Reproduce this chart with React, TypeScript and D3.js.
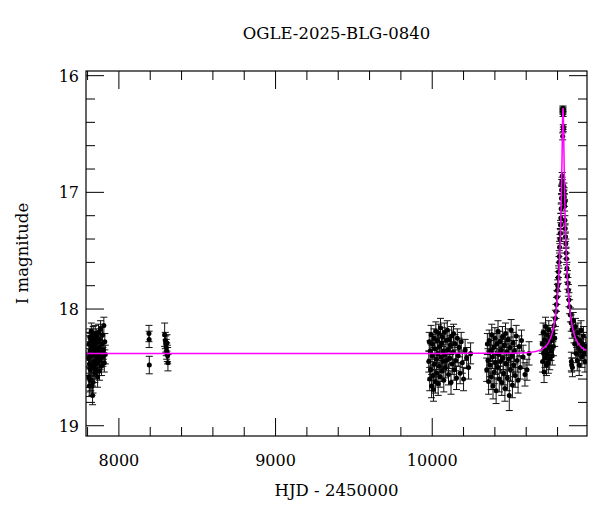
import React from "react";
import * as d3 from "d3";

const TITLE = "OGLE-2025-BLG-0840";
const X_LABEL = "HJD - 2450000";
const Y_LABEL = "I magnitude";
const X_MAJOR = [8000, 9000, 10000];
const Y_MAJOR = [16, 17, 18, 19];

// [HJD-2450000, I mag, error]
const season2017: number[][] = [
  [7806, 18.42, 0.08], [7808, 18.58, 0.09], [7809, 18.3, 0.07], [7811, 18.66, 0.09], [7812, 18.47, 0.08],
  [7814, 18.24, 0.07], [7815, 18.61, 0.1], [7817, 18.36, 0.08], [7818, 18.52, 0.08], [7820, 18.28, 0.07],
  [7821, 18.61, 0.09], [7823, 18.4, 0.08], [7824, 18.19, 0.07], [7826, 18.49, 0.08], [7827, 18.33, 0.07],
  [7828, 18.66, 0.08], [7830, 18.26, 0.07], [7832, 18.74, 0.08], [7833, 18.37, 0.08], [7835, 18.63, 0.09],
  [7836, 18.22, 0.07], [7838, 18.5, 0.08], [7840, 18.31, 0.07], [7841, 18.45, 0.08], [7843, 18.39, 0.08],
  [7844, 18.27, 0.07], [7846, 18.55, 0.08], [7848, 18.34, 0.07], [7849, 18.21, 0.07], [7851, 18.47, 0.08],
  [7853, 18.38, 0.08], [7855, 18.29, 0.07], [7856, 18.52, 0.08], [7858, 18.24, 0.07], [7860, 18.42, 0.08],
  [7862, 18.35, 0.07], [7864, 18.58, 0.09], [7866, 18.28, 0.07], [7868, 18.46, 0.08], [7870, 18.2, 0.07],
  [7872, 18.4, 0.08], [7874, 18.33, 0.07], [7876, 18.53, 0.08], [7878, 18.26, 0.07], [7880, 18.44, 0.08],
  [7883, 18.17, 0.07], [7886, 18.37, 0.08], [7889, 18.49, 0.08], [7892, 18.3, 0.07], [7895, 18.22, 0.07],
  [7898, 18.41, 0.08], [7901, 18.35, 0.08], [7904, 18.14, 0.07], [7907, 18.46, 0.08], [7910, 18.28, 0.07],
  [7913, 18.39, 0.08],
];

const season2018: number[][] = [
  [8192, 18.21, 0.07], [8193, 18.26, 0.07], [8194, 18.48, 0.075],
  [8292, 18.22, 0.1], [8296, 18.27, 0.07], [8299, 18.3, 0.07], [8302, 18.33, 0.07], [8305, 18.36, 0.07],
  [8307, 18.29, 0.07], [8309, 18.38, 0.07], [8311, 18.4, 0.07], [8313, 18.46, 0.07],
];

const season2023: number[][] = [
  [9978, 18.45, 0.09], [9981, 18.28, 0.08], [9984, 18.6, 0.1], [9987, 18.36, 0.09], [9990, 18.52, 0.09],
  [9993, 18.22, 0.08], [9996, 18.66, 0.1], [9999, 18.4, 0.09], [10002, 18.3, 0.08], [10005, 18.57, 0.09],
  [10008, 18.69, 0.1], [10011, 18.25, 0.08], [10014, 18.47, 0.09], [10017, 18.34, 0.08], [10020, 18.62, 0.1],
  [10023, 18.19, 0.08], [10026, 18.43, 0.09], [10029, 18.55, 0.09], [10032, 18.27, 0.08], [10035, 18.38, 0.09],
  [10038, 18.64, 0.1], [10041, 18.21, 0.08], [10044, 18.49, 0.09], [10047, 18.32, 0.08], [10050, 18.58, 0.09],
  [10053, 18.16, 0.08], [10056, 18.41, 0.09], [10059, 18.29, 0.08], [10062, 18.53, 0.09], [10065, 18.24, 0.08],
  [10068, 18.45, 0.09], [10071, 18.36, 0.08], [10074, 18.61, 0.1], [10077, 18.2, 0.08], [10080, 18.39, 0.09],
  [10084, 18.5, 0.09], [10088, 18.27, 0.08], [10092, 18.44, 0.09], [10096, 18.18, 0.08], [10100, 18.35, 0.09],
  [10104, 18.56, 0.09], [10108, 18.26, 0.08], [10112, 18.42, 0.09], [10116, 18.31, 0.08], [10120, 18.63, 0.1],
  [10124, 18.23, 0.08], [10128, 18.47, 0.09], [10132, 18.37, 0.09], [10136, 18.21, 0.08], [10140, 18.52, 0.09],
  [10145, 18.3, 0.08], [10150, 18.44, 0.09], [10155, 18.59, 0.1], [10160, 18.25, 0.08], [10166, 18.4, 0.09],
  [10172, 18.33, 0.08], [10178, 18.55, 0.09], [10185, 18.28, 0.08], [10192, 18.46, 0.09], [10200, 18.6, 0.1],
  [10210, 18.35, 0.09], [10220, 18.42, 0.09], [10232, 18.5, 0.1], [10245, 18.38, 0.09],
];

const season2024: number[][] = [
  [10348, 18.52, 0.1], [10352, 18.3, 0.09], [10356, 18.44, 0.1], [10360, 18.62, 0.11], [10364, 18.27, 0.09],
  [10368, 18.48, 0.1], [10372, 18.36, 0.09], [10376, 18.58, 0.11], [10380, 18.22, 0.09], [10384, 18.41, 0.1],
  [10388, 18.66, 0.11], [10392, 18.33, 0.09], [10396, 18.54, 0.1], [10400, 18.25, 0.09], [10404, 18.46, 0.1],
  [10408, 18.7, 0.11], [10412, 18.3, 0.09], [10416, 18.5, 0.1], [10420, 18.19, 0.09], [10424, 18.39, 0.1],
  [10428, 18.6, 0.11], [10432, 18.28, 0.09], [10436, 18.45, 0.1], [10440, 18.35, 0.09], [10444, 18.63, 0.11],
  [10448, 18.24, 0.09], [10452, 18.42, 0.1], [10456, 18.55, 0.1], [10460, 18.31, 0.09], [10464, 18.68, 0.11],
  [10468, 18.21, 0.09], [10472, 18.47, 0.1], [10476, 18.37, 0.09], [10480, 18.59, 0.11], [10484, 18.26, 0.09],
  [10488, 18.43, 0.1], [10492, 18.74, 0.13], [10496, 18.33, 0.09], [10500, 18.52, 0.1], [10504, 18.18, 0.09],
  [10508, 18.4, 0.1], [10512, 18.65, 0.11], [10516, 18.29, 0.09], [10520, 18.48, 0.1], [10525, 18.36, 0.09],
  [10530, 18.57, 0.1], [10536, 18.23, 0.09], [10542, 18.44, 0.1], [10548, 18.61, 0.11], [10555, 18.32, 0.09],
  [10562, 18.5, 0.1], [10570, 18.27, 0.09], [10580, 18.41, 0.1], [10592, 18.56, 0.1], [10605, 18.52, 0.09],
  [10618, 18.38, 0.1],
];

const season2025: number[][] = [
  [10702, 18.3, 0.08], [10705, 18.45, 0.09], [10708, 18.2, 0.08], [10711, 18.38, 0.08], [10714, 18.54, 0.09],
  [10717, 18.26, 0.08], [10720, 18.42, 0.08], [10723, 18.15, 0.08], [10726, 18.35, 0.08], [10729, 18.48, 0.09],
  [10732, 18.22, 0.08], [10735, 18.39, 0.08], [10738, 18.29, 0.08], [10741, 18.46, 0.09], [10744, 18.18, 0.08],
  [10747, 18.33, 0.08], [10750, 18.43, 0.09], [10754, 18.24, 0.08], [10758, 18.36, 0.08], [10762, 18.27, 0.08],
  [10766, 18.4, 0.08], [10770, 18.21, 0.07], [10774, 18.32, 0.08], [10778, 18.14, 0.07], [10782, 18.25, 0.07],
  [10786, 18.08, 0.07],
  [10790, 18.02, 0.06], [10793, 17.96, 0.06], [10796, 17.9, 0.06], [10799, 17.84, 0.05], [10801, 17.8, 0.05],
  [10804, 17.73, 0.05], [10806, 17.68, 0.05], [10809, 17.6, 0.05], [10811, 17.55, 0.05], [10813, 17.47, 0.05],
  [10815, 17.4, 0.04], [10817, 17.35, 0.04], [10819, 17.28, 0.04], [10821, 17.22, 0.04], [10823, 17.14, 0.04],
  [10825, 17.05, 0.04], [10826, 16.98, 0.04], [10827, 16.92, 0.03], [10829, 16.9, 0.03], [10830, 16.86, 0.03],
  [10833, 16.52, 0.03], [10834, 16.3, 0.02], [10834.3, 16.28, 0.02], [10834.6, 16.31, 0.02], [10835, 16.29, 0.02],
  [10835.3, 16.33, 0.02], [10836.5, 16.44, 0.02], [10836.8, 16.46, 0.02],
  [10841, 16.95, 0.03], [10842, 16.99, 0.03], [10843, 17.04, 0.03], [10844, 17.09, 0.03], [10845, 17.12, 0.04],
  [10847, 17.24, 0.04], [10849, 17.31, 0.04], [10851, 17.38, 0.04], [10853, 17.44, 0.04], [10855, 17.52, 0.05],
  [10857, 17.57, 0.05], [10860, 17.65, 0.05], [10863, 17.72, 0.05], [10866, 17.78, 0.05], [10869, 17.84, 0.05],
  [10873, 17.92, 0.06], [10877, 17.98, 0.06], [10882, 18.05, 0.06], [10887, 18.12, 0.07], [10888, 18.45, 0.08],
  [10890, 18.48, 0.06], [10893, 18.18, 0.07], [10895, 18.5, 0.08], [10900, 18.1, 0.07],
  [10905, 18.22, 0.07], [10910, 18.3, 0.08], [10914, 18.15, 0.07], [10918, 18.38, 0.08], [10922, 18.25, 0.08],
  [10926, 18.44, 0.09], [10930, 18.2, 0.08], [10934, 18.33, 0.08], [10938, 18.48, 0.09], [10942, 18.27, 0.08],
  [10946, 18.36, 0.08], [10950, 18.18, 0.08], [10955, 18.41, 0.09], [10960, 18.3, 0.08], [10965, 18.23, 0.08],
  [10970, 18.38, 0.09], [10975, 18.45, 0.09], [10980, 18.32, 0.08],
];

// Point-source point-lens model parameters (blended)
const MODEL_T0 = 10835;
const MODEL_TE = 70;
const MODEL_U0 = 0.078;
const MODEL_FS = 0.5;
const MODEL_BASE = 18.38;

const X_DOMAIN = [7790, 10988];
const Y_DOMAIN = [15.96, 19.088];

const FONT = "DejaVu Serif";

export default function App() {
  const left = 86, right = 587, top = 71, bottom = 436;
  const x = d3.scaleLinear().domain(X_DOMAIN).range([left, right]);
  const y = d3.scaleLinear().domain(Y_DOMAIN).range([top, bottom]);

  const data = [...season2017, ...season2018, ...season2023, ...season2024, ...season2025];

  const modelMag = (t: number) => {
    const tau = (t - MODEL_T0) / MODEL_TE;
    const u = Math.sqrt(tau * tau + MODEL_U0 * MODEL_U0);
    const A = (u * u + 2) / (u * Math.sqrt(u * u + 4));
    return MODEL_BASE - 2.5 * Math.log10(MODEL_FS * (A - 1) + 1);
  };
  const ts = d3.range(X_DOMAIN[0], X_DOMAIN[1], 0.5);
  const line = d3
    .line<number>()
    .x((t) => x(t))
    .y((t) => y(modelMag(t)));

  const xMinor = d3.range(7800, 11000, 200).filter((v) => v % 1000 !== 0);
  const yMinor = d3.range(16, 19.1, 0.2).map((v) => Math.round(v * 10) / 10).filter((v) => Math.abs(v - Math.round(v)) > 0.01);

  const MAJ = 18, MIN = 9;
  const tickStroke = "#000";

  return (
    <svg
      width={600}
      height={512}
      style={{ position: "absolute", left: 0, top: 0, background: "#fff" }}
      fontFamily={FONT}
    >
      <rect x={0} y={0} width={600} height={512} fill="#fff" />
      <text x={(left + right) / 2} y={39} textAnchor="middle" fontSize={16.5}>
        {TITLE}
      </text>

      {/* x ticks */}
      {X_MAJOR.map((v) => (
        <g key={"xM" + v}>
          <line x1={x(v)} x2={x(v)} y1={bottom} y2={bottom - MAJ} stroke={tickStroke} />
          <line x1={x(v)} x2={x(v)} y1={top} y2={top + MAJ} stroke={tickStroke} />
          <text x={x(v)} y={466} textAnchor="middle" fontSize={16}>
            {v}
          </text>
        </g>
      ))}
      {xMinor.map((v) => (
        <g key={"xm" + v}>
          <line x1={x(v)} x2={x(v)} y1={bottom} y2={bottom - MIN} stroke={tickStroke} />
          <line x1={x(v)} x2={x(v)} y1={top} y2={top + MIN} stroke={tickStroke} />
        </g>
      ))}
      {/* y ticks */}
      {Y_MAJOR.map((v) => (
        <g key={"yM" + v}>
          <line x1={left} x2={left + MAJ} y1={y(v)} y2={y(v)} stroke={tickStroke} />
          <line x1={right} x2={right - MAJ} y1={y(v)} y2={y(v)} stroke={tickStroke} />
          <text x={79} y={y(v) + 6} textAnchor="end" fontSize={16}>
            {v}
          </text>
        </g>
      ))}
      {yMinor.map((v) => (
        <g key={"ym" + v}>
          <line x1={left} x2={left + MIN} y1={y(v)} y2={y(v)} stroke={tickStroke} />
          <line x1={right} x2={right - MIN} y1={y(v)} y2={y(v)} stroke={tickStroke} />
        </g>
      ))}

      <text x={(left + right) / 2} y={496} textAnchor="middle" fontSize={16.5}>
        {X_LABEL}
      </text>
      <text
        transform={`translate(28, ${(top + bottom) / 2}) rotate(-90)`}
        textAnchor="middle"
        fontSize={16.5}
      >
        {Y_LABEL}
      </text>

      <defs>
        <clipPath id="plotclip">
          <rect x={left} y={top} width={right - left} height={bottom - top} />
        </clipPath>
      </defs>
      <g clipPath="url(#plotclip)">
        {data.map((d, i) => (
          <g key={"e" + i} stroke="#111" strokeWidth={1}>
            <line x1={x(d[0])} x2={x(d[0])} y1={y(d[1] - d[2])} y2={y(d[1] + d[2])} />
            <line x1={x(d[0]) - 3.5} x2={x(d[0]) + 3.5} y1={y(d[1] - d[2])} y2={y(d[1] - d[2])} />
            <line x1={x(d[0]) - 3.5} x2={x(d[0]) + 3.5} y1={y(d[1] + d[2])} y2={y(d[1] + d[2])} />
          </g>
        ))}
        {data.map((d, i) => (
          <circle key={"p" + i} cx={x(d[0])} cy={y(d[1])} r={2.5} fill="#000" />
        ))}
        <path d={line(ts) || ""} fill="none" stroke="#ff00ff" strokeWidth={1.5} />
      </g>
      <rect x={left} y={top} width={right - left} height={bottom - top} fill="none" stroke="#000" strokeWidth={1.2} />
    </svg>
  );
}
